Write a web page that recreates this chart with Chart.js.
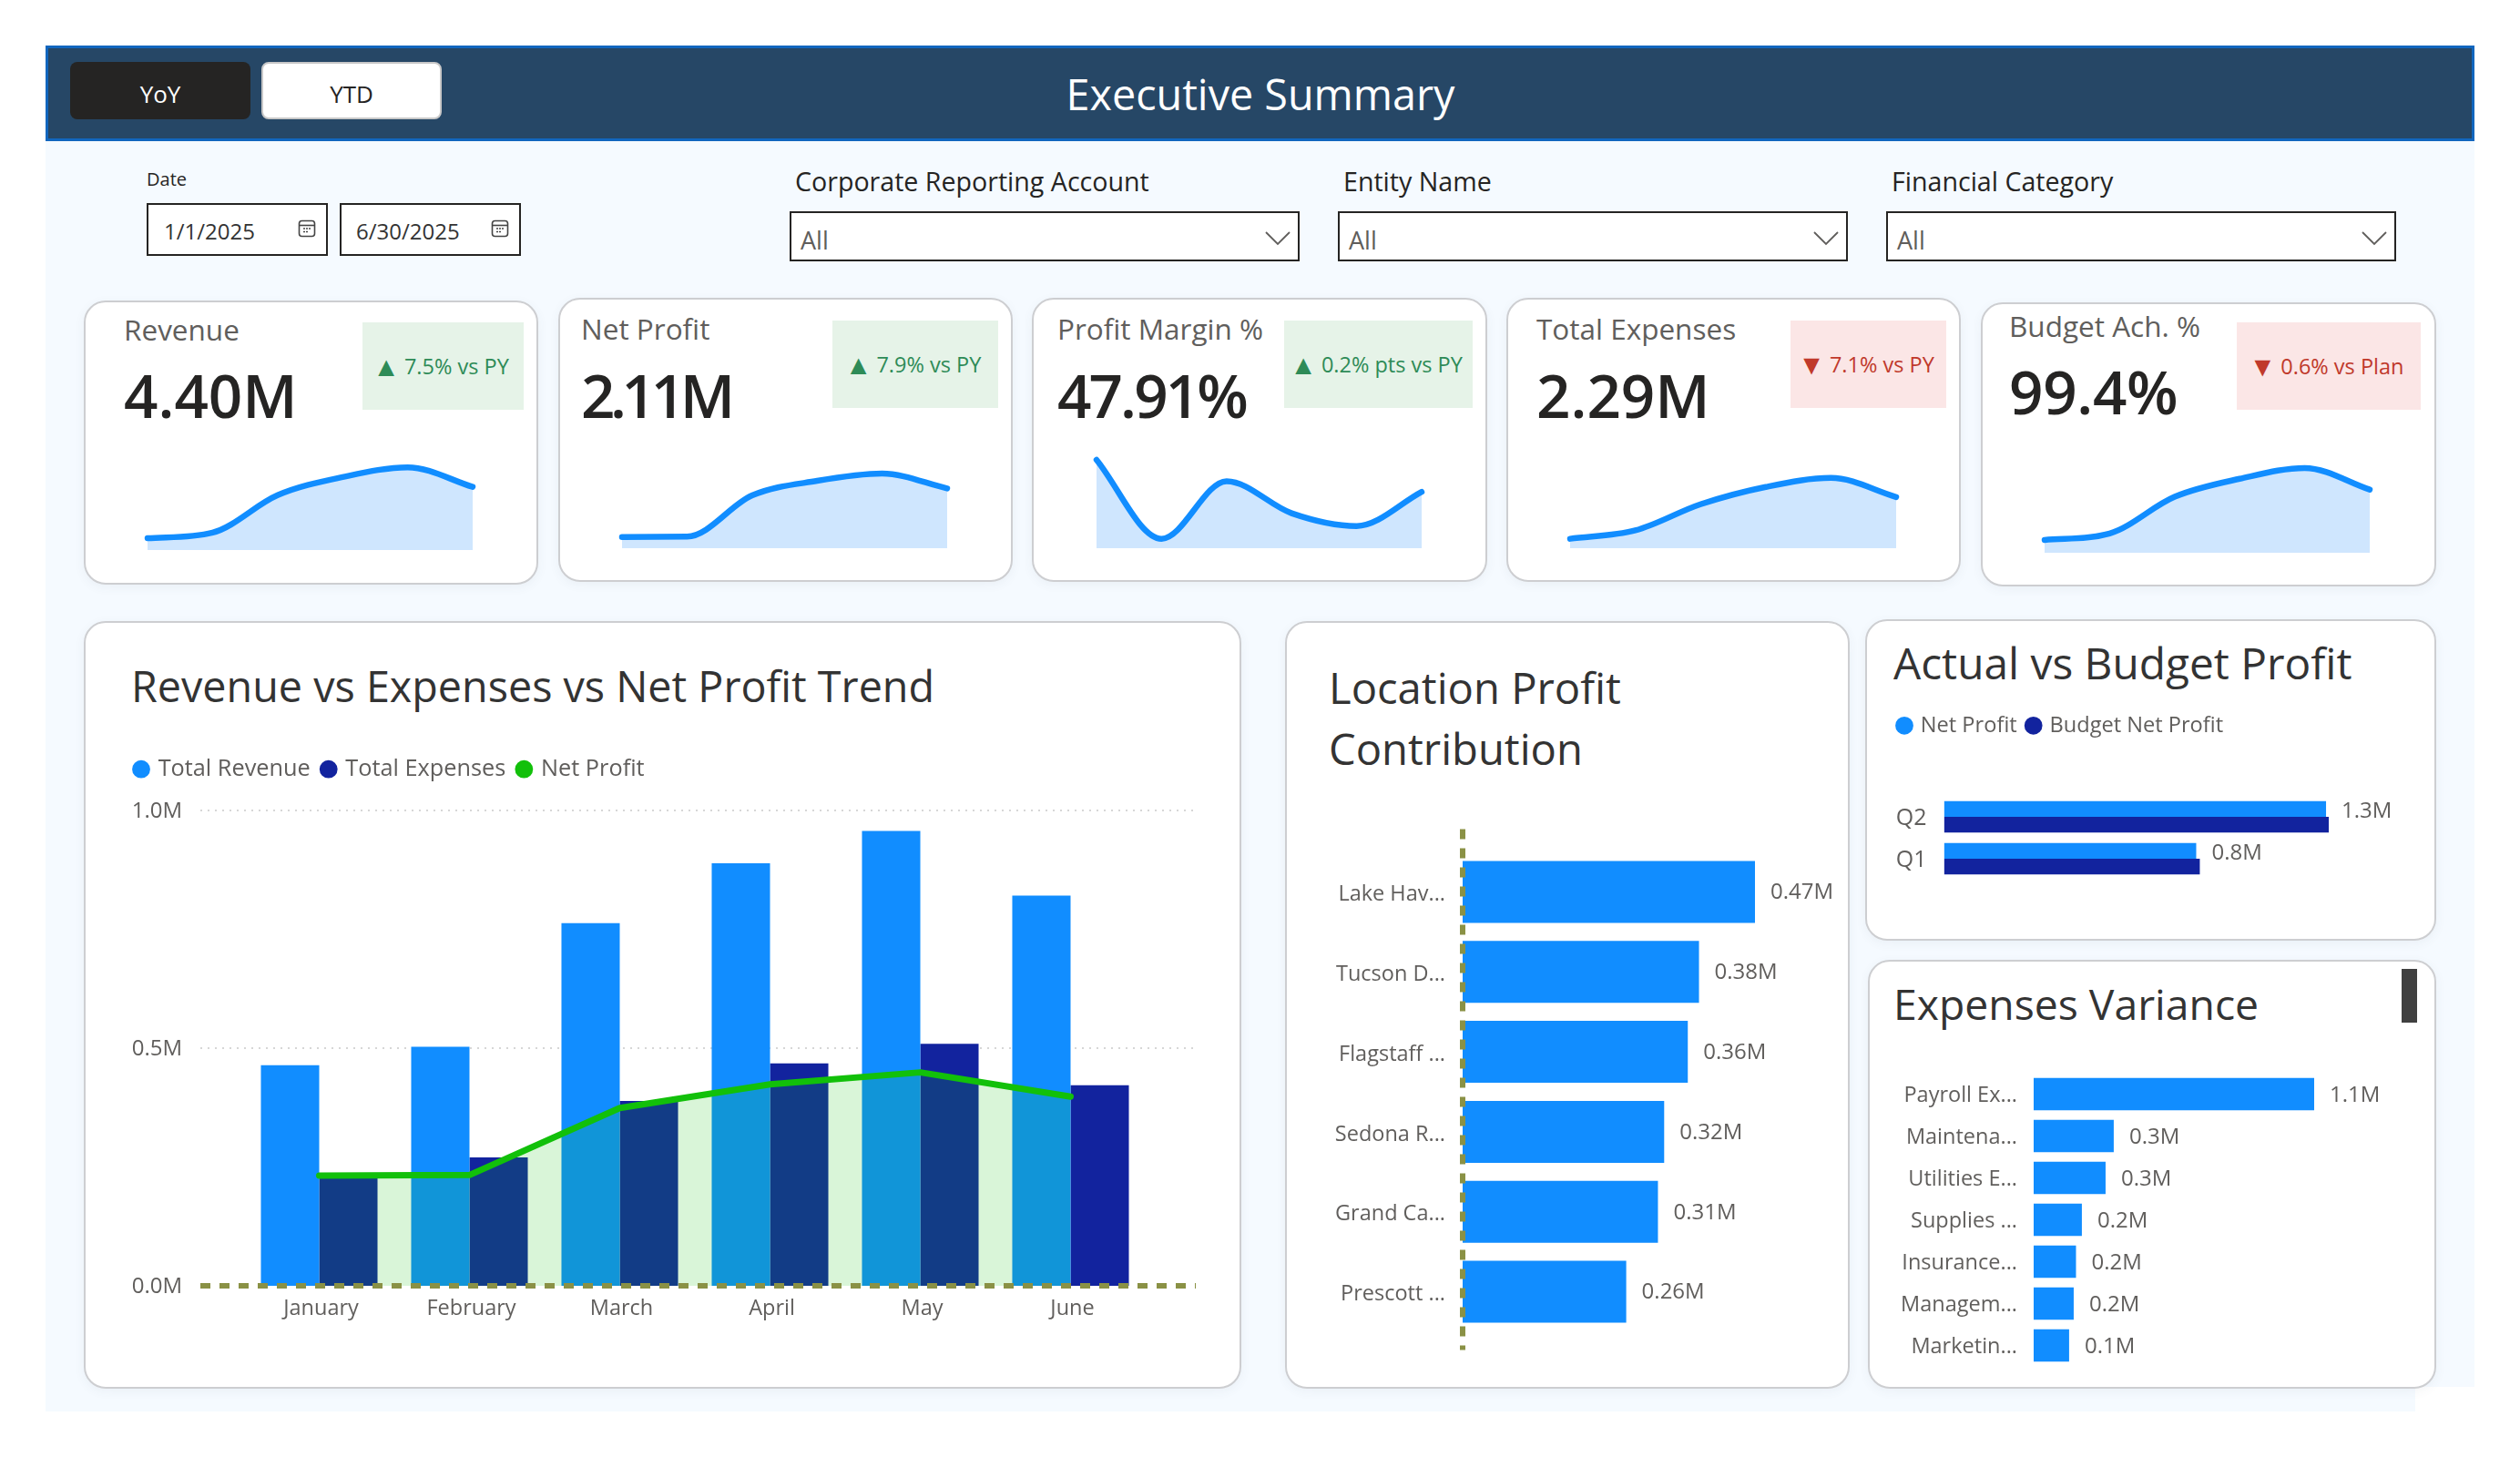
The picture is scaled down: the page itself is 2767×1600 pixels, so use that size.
<!DOCTYPE html>
<html><head><meta charset="utf-8"><title>Executive Summary</title>
<script src="https://cdn.jsdelivr.net/npm/chart.js@4"></script>
<style>
html,body{margin:0;padding:0;background:#fff;overflow:hidden}
#stage{position:relative;width:2767px;height:1600px;overflow:hidden;font-family:"Open Sans",sans-serif;color:#252423}
.abs{position:absolute;box-sizing:border-box}
.t{position:absolute;white-space:nowrap;transform:translateY(-50%);line-height:1}
.card{position:absolute;box-sizing:border-box;background:#fff;border:2px solid #CDCED1;border-radius:24px;box-shadow:0 3px 12px rgba(60,80,110,.06)}
.inp{position:absolute;box-sizing:border-box;background:#fff;border:2.5px solid #252423}
canvas{position:absolute;display:block}
</style></head><body><div id="stage"></div>
<script>
// ---------- data ----------
const months = ['January','February','March','April','May','June'];
const totalRevenue = [0.464,0.503,0.763,0.889,0.957,0.821];
const totalExpenses = [0.232,0.270,0.389,0.468,0.509,0.422];
const netProfit = [0.232,0.233,0.374,0.424,0.449,0.398];
const profitMargin = [50.0,46.3,49.0,47.5,46.9,48.5];
const budgetAch = [0.46,0.505,0.76,0.885,0.96,0.81];
const trendTicks = ['0.0M','0.5M','1.0M'];
const locations = ['Lake Hav...','Tucson D...','Flagstaff ...','Sedona R...','Grand Ca...','Prescott ...'];
const locationProfit = [0.47,0.38,0.362,0.324,0.314,0.263];
const quarters = ['Q2','Q1'];
const quarterProfit = [1.271,0.839];
const quarterBudget = [1.28,0.851];
const expenseCats = ['Payroll Ex...','Maintena...','Utilities E...','Supplies ...','Insurance...','Managem...','Marketin...'];
const expenseVariance = [1.1,0.314,0.282,0.189,0.166,0.157,0.139];

// ---------- palette ----------
const BLUE='#118DFF', NAVY='#12239E', GREEN='#12C00A', OLIVE='#8A9145', GREY='#605E5C';
const FONT='"Open Sans",sans-serif';
const stage=document.getElementById('stage');
function el(cls,css,html){const d=document.createElement('div');d.className=cls;d.style.cssText=css;if(html)d.innerHTML=html;stage.appendChild(d);return d;}
function rect(cls,x0,y0,x1,y1,extra){return el(cls,`left:${x0}px;top:${y0}px;width:${x1-x0}px;height:${y1-y0}px;${extra||''}`);}
function txt(x,y,s,size,color,extra){return el('t',`left:${x}px;top:${y}px;font-size:${size}px;color:${color};${extra||''}`,s);}

// ---------- page frame ----------
rect('abs',50,150,2717,1523,'background:#F5FAFF');
rect('abs',50,1523,2652,1550,'background:#F5FAFF');
rect('abs',50,50,2717,155,'background:#264766;border:3px solid #1166BE');
rect('abs',77,68,275,131,'background:#252423;border-radius:8px');
rect('abs',287,68,485,131,'background:#fff;border:2px solid #C8C8C8;border-radius:8px');
txt(176,103,'YoY',26,'#fff','transform:translate(-50%,-50%)');
txt(386,103,'YTD',26,'#252423','transform:translate(-50%,-50%)');
txt(1384,103,'Executive Summary',46.7,'#fff','transform:translate(-50%,-50%)');

// ---------- slicers ----------
txt(161,197,'Date',20,'#252423');
const calendar=x=>el('abs',`left:${x-10}px;top:241px;width:20px;height:20px`,
 '<svg width="20" height="20" viewBox="0 0 20 20"><rect x="1.5" y="1.5" width="17" height="17" rx="3" fill="none" stroke="#444" stroke-width="1.6"/><path d="M2 6.5H18" stroke="#444" stroke-width="1.6"/><path d="M6 10h2M9 10h2M12 10h2M6 13.5h2M9 13.5h2" stroke="#444" stroke-width="1.6"/></svg>');
rect('inp',161,223,360,281); rect('inp',373,223,572,281);
txt(180,254,'1/1/2025',24,'#333'); txt(391,254,'6/30/2025',24,'#333');
calendar(337); calendar(549);
[[867,1427,873,'Corporate Reporting Account'],[1469,2029,1475,'Entity Name'],[2071,2631,2077,'Financial Category']].forEach(([a,b,lx,label])=>{
  txt(lx,199,label,28.6,'#252423');
  rect('inp',a,232,b,287);
  txt(a+12,263,'All',27,GREY);
  el('abs',`left:${b-38}px;top:253px;width:28px;height:16px`,'<svg width="28" height="16"><polyline points="1,1 14,14 27,1" fill="none" stroke="#605E5C" stroke-width="1.8"/></svg>');
});

// ---------- KPI cards ----------
const kpis=[
 {c:[92,330,591,642],b:[398,354,575,450],tx:136,ty:362,vy:434,ls:0,title:'Revenue',value:'4.40M',up:true,note:'7.5% vs PY'},
 {c:[613,327,1112,639],b:[914,352,1096,448],tx:638,ty:361,vy:434,ls:-5.4,title:'Net Profit',value:'2.11M',up:true,note:'7.9% vs PY'},
 {c:[1133,327,1633,639],b:[1410,352,1617,448],tx:1161,ty:361,vy:434,ls:-2.9,title:'Profit Margin %',value:'47.91%',up:true,note:'0.2% pts vs PY'},
 {c:[1654,327,2153,639],b:[1966,352,2137,448],tx:1687,ty:361,vy:434,ls:0,title:'Total Expenses',value:'2.29M',up:false,note:'7.1% vs PY'},
 {c:[2175,332,2675,644],b:[2456,354,2658,450],tx:2206,ty:358,vy:430,ls:-0.3,title:'Budget Ach. %',value:'99.4%',up:false,note:'0.6% vs Plan'}
];
kpis.forEach(k=>{
  rect('card',...k.c);
  rect('abs',...k.b,`background:${k.up?'#E6F3E8':'#FBE6E6'};display:flex;align-items:center;justify-content:center;font-size:23.5px;white-space:nowrap;padding-right:5px;color:${k.up?'#2E8B57':'#C0392B'}`).innerHTML='<span style="font-size:30px;line-height:1;margin-right:5px">'+(k.up?'▲':'▼')+'</span>'+k.note;
  txt(k.tx,k.ty,k.title,31.5,GREY);
  txt(k.tx,k.vy,k.value,65.5,'#252423',`font-weight:600;letter-spacing:${k.ls}px`);
});

// ---------- chart cards ----------
rect('card',92,682,1363,1525);
rect('card',1411,682,2031,1525);
rect('card',2048,680,2675,1033);
rect('card',2051,1054,2675,1525);
txt(144,753,'Revenue vs Expenses vs Net Profit Trend',46.7,'#333');
txt(1459,756,'Location Profit',47.2,'#333');
txt(1459,823,'Contribution',47.2,'#333');
txt(2079,728,'Actual vs Budget Profit',47.8,'#333');
txt(2079,1103,'Expenses Variance',46.3,'#333');
rect('abs',2637,1064,2654,1123,'background:#404040');

// ---------- helpers ----------
Chart.defaults.font.family=FONT;
Chart.defaults.animation=false;
function mk(x0,y0,x1,y1,cfg){
  const c=document.createElement('canvas');
  c.width=x1-x0;c.height=y1-y0;
  c.style.left=x0+'px';c.style.top=y0+'px';c.style.width=(x1-x0)+'px';c.style.height=(y1-y0)+'px';
  stage.appendChild(c);
  cfg.options=Object.assign({responsive:false,maintainAspectRatio:false},cfg.options);
  return new Chart(c.getContext('2d'),cfg);
}
const fitY=w=>s=>{s.width=w;s.paddingTop=0;s.paddingBottom=0;};
const fixLegend=h=>({id:'fixLegend',beforeLayout(ch){
  if(ch.legend.__w)return;ch.legend.__w=1;const f=ch.legend.fit;
  ch.legend.fit=function(){f.call(this);this.height=h;};}});
const valueLabels=(fmt,size,dy)=>({id:'valueLabels',afterDatasetsDraw(ch){
  const ctx=ch.ctx,meta=ch.getDatasetMeta(0);ctx.save();
  ctx.font=`${size}px ${FONT}`;ctx.fillStyle=GREY;ctx.textAlign='left';ctx.textBaseline='middle';
  meta.data.forEach((b,i)=>ctx.fillText(fmt(ch.data.datasets[0].data[i]),b.x+17,b.y+dy));
  ctx.restore();}});
const legendOf=(colors,size,gap,boxH)=>({align:'start',labels:{
  font:{size},color:GREY,padding:gap,usePointStyle:true,boxWidth:12,boxHeight:boxH,
  generateLabels:ch=>ch.data.datasets.map((d,i)=>({text:d.label,fillStyle:colors[i],strokeStyle:colors[i],lineWidth:0,pointStyle:'circle',datasetIndex:i,fontColor:GREY}))}});
const noGrid={display:false,drawTicks:false};

// ---------- main trend chart ----------
mk(110,818,1350,1480,{
  type:'bar',
  data:{labels:months,datasets:[
    {label:'Total Revenue',data:totalRevenue,backgroundColor:BLUE,order:2,categoryPercentage:.776,barPercentage:1},
    {label:'Total Expenses',data:totalExpenses,backgroundColor:NAVY,order:2,categoryPercentage:.776,barPercentage:1},
    {type:'line',label:'Net Profit',data:netProfit,borderColor:GREEN,borderWidth:7,tension:0,pointRadius:0,borderCapStyle:'round',borderJoinStyle:'round',fill:'origin',backgroundColor:'rgba(18,192,10,.16)',order:1}
  ]},
  options:{
    layout:{padding:{left:25,right:92,top:0,bottom:0}},
    plugins:{legend:legendOf([BLUE,NAVY,GREEN],25.3,14,14),tooltip:{enabled:false}},
    scales:{
      x:{grid:noGrid,border:{display:false},ticks:{color:GREY,font:{size:23.5},padding:11,labelOffset:2,maxRotation:0},afterFit:s=>{s.height=68;}},
      y:{min:0,max:1,grid:noGrid,border:{display:false},
         afterBuildTicks:s=>{s.ticks=trendTicks.map(t=>({value:parseFloat(t)}));},
         ticks:{color:GREY,font:{size:24},padding:68,labelOffset:1,callback:(v,i)=>trendTicks[i]},
         afterFit:fitY(133)}
    }
  },
  plugins:[fixLegend(72),{
    id:'refLines',
    beforeDatasetsDraw(ch){
      const {ctx,chartArea:a,scales:{y}}=ch;ctx.save();ctx.strokeStyle='#C9C9C9';ctx.lineWidth=1.6;ctx.setLineDash([2,6]);
      trendTicks.slice(1).forEach(t=>{const p=y.getPixelForValue(parseFloat(t));ctx.beginPath();ctx.moveTo(a.left-48,p);ctx.lineTo(a.right+55,p);ctx.stroke();});
      ctx.restore();},
    afterDatasetsDraw(ch){
      const {ctx,chartArea:a,scales:{y}}=ch;ctx.save();ctx.strokeStyle=OLIVE;ctx.lineWidth=6;ctx.setLineDash([11,10]);
      const p=y.getPixelForValue(0);ctx.beginPath();ctx.moveTo(a.left-48,p);ctx.lineTo(a.right+55,p);ctx.stroke();ctx.restore();}
  }]
});

// ---------- location chart ----------
mk(1430,900,2020,1495,{
  type:'bar',
  data:{labels:locations,datasets:[{label:'Net Profit',data:locationProfit,backgroundColor:BLUE,categoryPercentage:.775,barPercentage:1}]},
  options:{
    indexAxis:'y',
    layout:{padding:{left:0,right:20,top:35.5,bottom:32.5}},
    plugins:{legend:{display:false},tooltip:{enabled:false}},
    scales:{
      x:{display:false,min:0,max:.5769},
      y:{grid:noGrid,border:{display:false},ticks:{color:GREY,font:{size:23.5},padding:19,labelOffset:3,autoSkip:false},afterFit:fitY(176)}
    }
  },
  plugins:[valueLabels(v=>v.toFixed(2)+'M',24,1),{
    id:'zeroLine',
    afterDatasetsDraw(ch){
      const {ctx,chartArea:a,scales:{x}}=ch;ctx.save();ctx.strokeStyle=OLIVE;ctx.lineWidth=6;ctx.setLineDash([11,10]);
      const p=x.getPixelForValue(0);ctx.beginPath();ctx.moveTo(p,a.top-25);ctx.lineTo(p,a.bottom+20);ctx.stroke();ctx.restore();}
  }]
});

// ---------- actual vs budget ----------
mk(2060,773,2668,970,{
  type:'bar',
  data:{labels:quarters,datasets:[
    {label:'Net Profit',data:quarterProfit,backgroundColor:BLUE,categoryPercentage:.75,barPercentage:1},
    {label:'Budget Net Profit',data:quarterBudget,backgroundColor:NAVY,categoryPercentage:.75,barPercentage:1}
  ]},
  options:{
    indexAxis:'y',
    layout:{padding:{left:13,right:28,top:0,bottom:4}},
    plugins:{legend:legendOf([BLUE,NAVY],23.6,12,14),tooltip:{enabled:false}},
    scales:{
      x:{display:false,min:0,max:1.5315},
      y:{grid:noGrid,border:{display:false},ticks:{color:GREY,font:{size:25},padding:19,labelOffset:2,autoSkip:false},afterFit:fitY(61.6)}
    }
  },
  plugins:[fixLegend(101),valueLabels(v=>v.toFixed(1)+'M',24,3)]
});

// ---------- expenses variance ----------
mk(2060,1170,2668,1510,{
  type:'bar',
  data:{labels:expenseCats,datasets:[{label:'Variance',data:expenseVariance,backgroundColor:BLUE,categoryPercentage:.775,barPercentage:1}]},
  options:{
    indexAxis:'y',
    layout:{padding:{left:0,right:28,top:8.5,bottom:9.5}},
    plugins:{legend:{display:false},tooltip:{enabled:false}},
    scales:{
      x:{display:false,min:0,max:1.4536},
      y:{grid:noGrid,border:{display:false},ticks:{color:GREY,font:{size:23.5},padding:18,labelOffset:2,autoSkip:false},afterFit:fitY(173)}
    }
  },
  plugins:[valueLabels(v=>v.toFixed(1)+'M',24,2)]
});

// ---------- sparklines ----------
function spark(L,R,T,B,data,min,max){
  mk(L-10,T-10,R+10,B+10,{
    type:'line',
    data:{labels:months,datasets:[{data,borderColor:BLUE,borderWidth:6.5,cubicInterpolationMode:'monotone',pointRadius:0,borderCapStyle:'round',fill:'start',backgroundColor:'#CFE6FE',clip:false}]},
    options:{layout:{padding:10},plugins:{legend:{display:false},tooltip:{enabled:false}},scales:{x:{display:false},y:{display:false,min,max}}}
  });
}
spark(162,519,490,604,totalRevenue,.382,1.1035);
spark(683,1040,490,602,netProfit,.1935,.5426);
spark(1204,1561,490,602,profitMargin,45.86,50.64);
spark(1724,2082,490,602,totalExpenses,.189,.6535);
spark(2245,2602,490,607,budgetAch,.371,1.1115);
</script></body></html>
